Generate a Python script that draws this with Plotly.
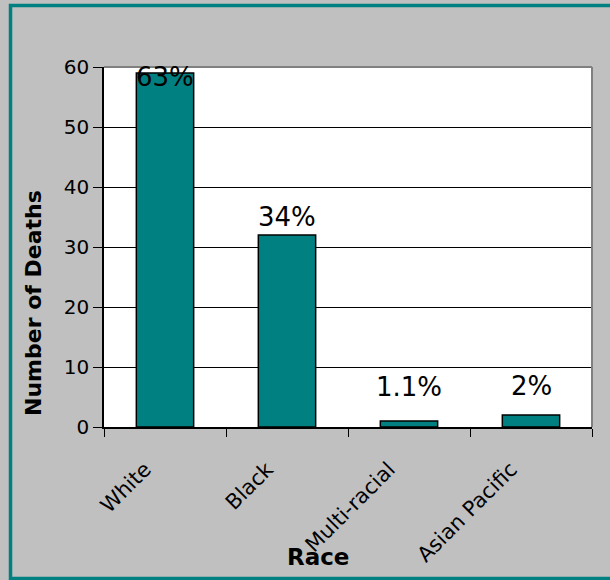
import plotly.graph_objects as go

categories = ["White", "Black", "Multi-racial", "Asian Pacific"]
deaths = [59, 32, 1, 2]
pct_labels = ["63%", "34%", "1.1%", "2%"]
y_ticks = [0, 10, 20, 30, 40, 50, 60]

# styling: vertical pixel offsets of the percentage label centres above the bar tops
label_shift_px = [-4, 18, 34, 29]

FONT = "DejaVu Sans"
W, H = 610, 580
L, R, T, B = 104, 18, 67, 153
PW, PH = W - L - R, H - T - B


def px_to_paper(x, y):
    return (x - L) / PW, (H - B - y) / PH


fig = go.Figure()
fig.add_trace(go.Bar(
    x=categories, y=deaths, width=0.47,
    marker=dict(color="#008080", line=dict(color="#000000", width=1.5)),
    hoverinfo="x+y",
))

annotations = []
for c, v, t, s in zip(categories, deaths, pct_labels, label_shift_px):
    annotations.append(dict(x=c, y=v, xref="x", yref="y", text=t, showarrow=False,
                            yanchor="middle", yshift=s,
                            font=dict(family=FONT, size=26, color="#000")))

ax, ay = px_to_paper(33, 303)
annotations.append(dict(x=ax, y=ay, xref="paper", yref="paper", text="<b>Number of Deaths</b>",
                        textangle=-90, showarrow=False, xanchor="center", yanchor="middle",
                        font=dict(family=FONT, size=22, color="#000")))
rx, ry = px_to_paper(318, 557)
annotations.append(dict(x=rx, y=ry, xref="paper", yref="paper", text="<b>Race</b>",
                        showarrow=False, xanchor="center", yanchor="middle",
                        font=dict(family=FONT, size=23, color="#000")))

bx0, by0 = px_to_paper(10.5, 5.5)
bx1, by1 = px_to_paper(614, 578.5)
shapes = [
    dict(type="rect", xref="paper", yref="paper", x0=bx0, y0=by1, x1=bx1, y1=by0,
         line=dict(color="#008080", width=3.5), layer="above"),
    dict(type="line", xref="paper", yref="paper", x0=0, y0=1, x1=1, y1=1,
         line=dict(color="#808080", width=2), layer="above"),
    dict(type="line", xref="paper", yref="paper", x0=1, y0=0, x1=1, y1=1,
         line=dict(color="#808080", width=2), layer="above"),
]

fig.update_layout(
    width=W, height=H,
    margin=dict(l=L, r=R, t=T, b=B, pad=0),
    paper_bgcolor="#C0C0C0", plot_bgcolor="#FFFFFF",
    showlegend=False,
    font=dict(family=FONT, color="#000"),
    annotations=annotations, shapes=shapes,
    bargap=0.53,
)
fig.update_xaxes(
    type="category", tickson="boundaries", ticks="outside", ticklen=8,
    tickcolor="#000", tickwidth=1, tickangle=-45,
    tickfont=dict(family=FONT, size=21, color="#000"),
    showline=True, linecolor="#000", linewidth=1.5, showgrid=False,
    ticklabelshift=-20, ticklabelstandoff=20,
)
fig.update_yaxes(
    range=[0, 60], tickvals=y_ticks, ticks="outside", ticklen=9, tickcolor="#000",
    tickwidth=1, tickfont=dict(family=FONT, size=20, color="#000"),
    showline=True, linecolor="#000", linewidth=1.5,
    showgrid=True, gridcolor="#000", gridwidth=1, zeroline=False,
)

fig.write_html("out.html", config={"displayModeBar": False},
               post_script="document.body.style.margin='0';document.body.style.overflow='hidden';")
